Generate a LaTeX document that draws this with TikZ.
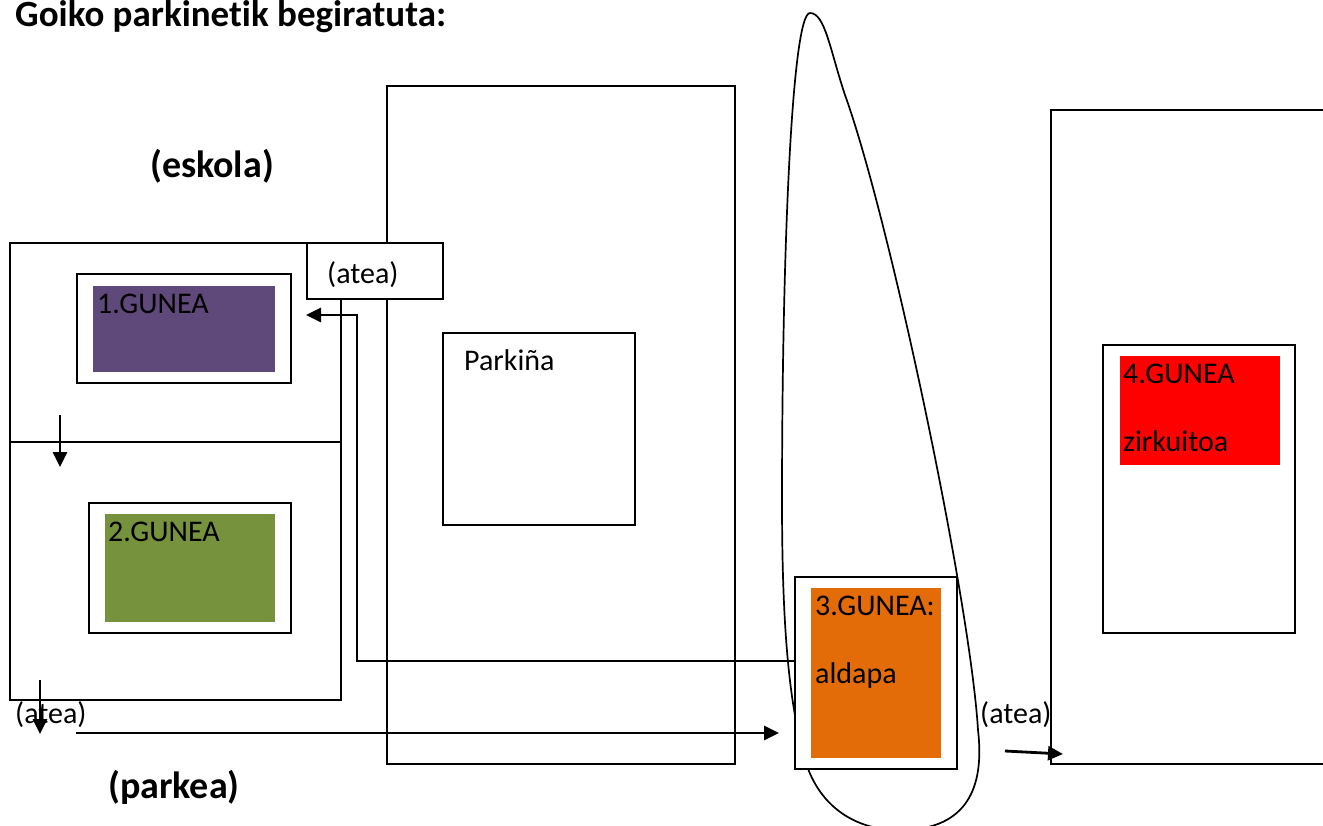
\documentclass[tikz,border=0pt]{standalone}
\usepackage{fontspec}
\setmainfont{Carlito}[Ligatures=NoCommon]
\usetikzlibrary{arrows.meta}

\definecolor{gunepurple}{HTML}{5F497A}
\definecolor{gunegreen}{HTML}{76923C}
\definecolor{guneorange}{HTML}{E36C09}
\definecolor{gunered}{HTML}{FF0000}

\tikzset{
  wall/.style={line width=1.7pt, fill=white},
  walk/.style={line width=2.8pt, -{Triangle[length=15pt, width=14pt]}},
  txt/.style={anchor=base west, inner sep=0pt, font=\fontsize{30}{33}\selectfont},
  head/.style={anchor=base west, inner sep=0pt, font=\fontsize{38}{42}\selectfont\bfseries}
}

\begin{document}
\begin{tikzpicture}[x=1pt, y=-1pt]
\useasboundingbox (0,0) rectangle (1323,825);

% === Titles ===
\node[head, font=\fontsize{37}{40}\selectfont\bfseries] (title) at (15,26) {Goiko parkinetik begiratuta:};
\node[head] (eskola) at (150,177) {(eskola)};
\node[head] (parkea) at (108,798) {(parkea)};

% === Parking ===
\draw[wall] (387,86) rectangle (735,764);
\draw[wall] (443,333) rectangle (635,525);
\node[txt] (parkina) at (464,370) {Parkiña};

% === Eskola ===
\draw[wall] (10,243) rectangle (341,700);
\draw[line width=1.7pt] (10,442) -- (341,442);

% zone 1
\draw[wall] (77,274) rectangle (291,383);
\fill[gunepurple] (93,286) rectangle (275,372);
\node[txt] (gune1) at (97,313) {1.GUNEA};

% zone 2
\draw[wall] (89,503) rectangle (291,633);
\fill[gunegreen] (105,514) rectangle (275,622);
\node[txt] (gune2) at (108,541) {2.GUNEA};

% gate
\draw[wall] (307,243) rectangle (443,299);
\node[txt] (atea1) at (327,283) {(atea)};

% === Loop round zone 3 ===
\draw[line width=1.7pt] (810,13) .. controls (792,13) and (782,250) .. (782,500)
  .. controls (782,620) and (788,700) .. (805,760)
  .. controls (820,810) and (860,832) .. (905,830)
  .. controls (965,828) and (985,790) .. (978,730)
  .. controls (970,600) and (890,220) .. (845,95)
  .. controls (830,50) and (825,13) .. (810,13);

% zone 3
\draw[wall] (795,577) rectangle (957,769);
\fill[guneorange] (811,588) rectangle (941,758);
\node[txt] (gune3) at (815,615) {3.GUNEA:};
\node[txt] (aldapa) at (815,683) {aldapa};

% === Zirkuitoa ===
\draw[wall] (1051,110) rectangle (1340,764);
\draw[wall] (1103,345) rectangle (1295,633);
\fill[gunered] (1120,356) rectangle (1280,465);
\node[txt] (gune4) at (1123,383) {4.GUNEA};
\node[txt] (zirk) at (1123,451) {zirkuitoa};

% === Route ===
\node[txt] (atea2) at (15,723) {(atea)};
\node[txt] (atea3) at (980,723) {(atea)};

\coordinate (r1) at (60,415);
\coordinate (r2) at (60,467);
\coordinate (r3) at (40,680);
\coordinate (r4) at (40,734);
\coordinate (r5) at (76,733);
\coordinate (r6) at (779,733);
\coordinate (r7) at (795,661);
\coordinate (r8) at (357,315);
\coordinate (r9) at (306,315);
\coordinate (r10) at (1005,751);
\coordinate (r11) at (1063,754);

\draw[walk] (r1) -- (r2);
\draw[walk] (r3) -- (r4);
\draw[walk] (r5) -- (r6);
\draw[walk] (r7) -| (r8) -- (r9);
\draw[walk] (r10) -- (r11);

\end{tikzpicture}
\end{document}
